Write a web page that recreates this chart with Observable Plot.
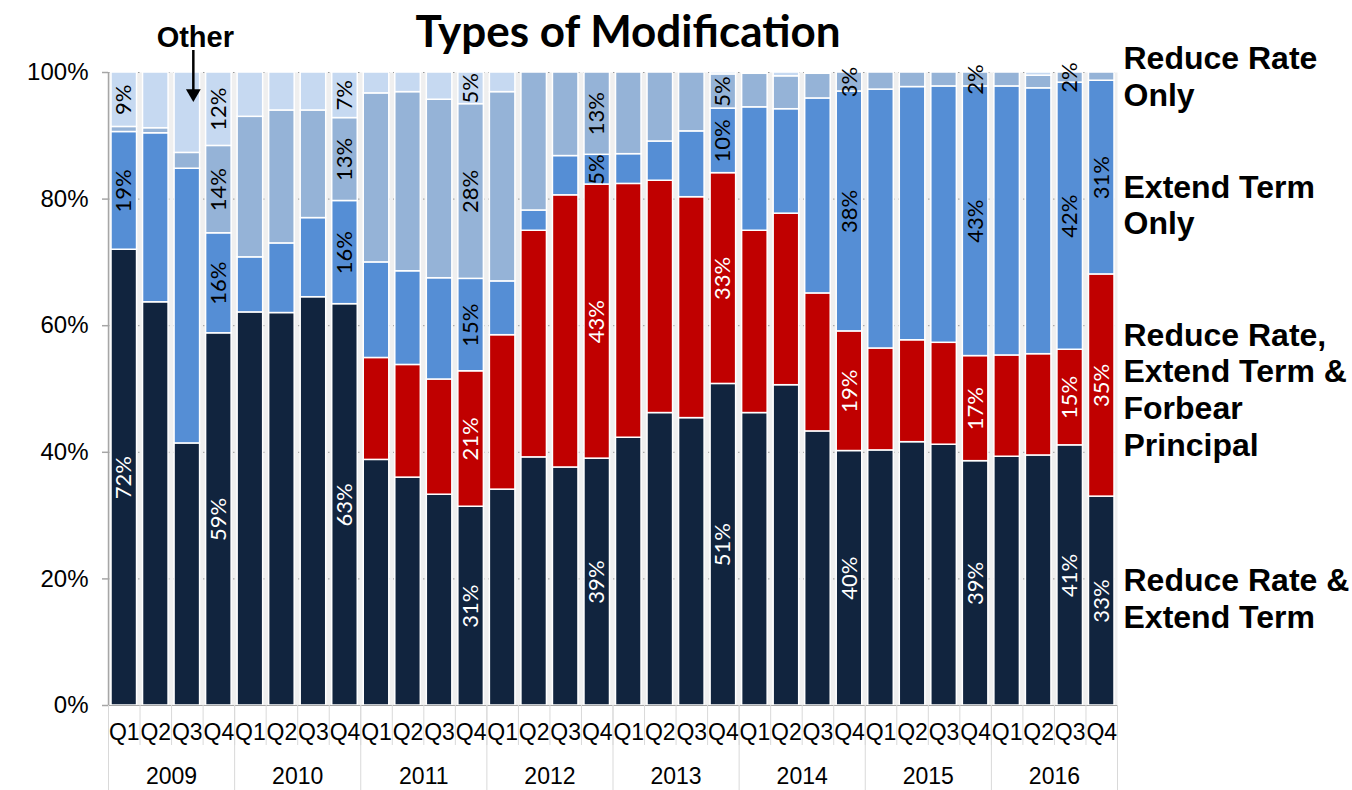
<!DOCTYPE html>
<html><head><meta charset="utf-8">
<script src="https://cdn.jsdelivr.net/npm/d3@7"></script>
<script src="https://cdn.jsdelivr.net/npm/@observablehq/plot@0.6"></script>
<style>body{margin:0;background:#fff}</style>
</head><body><div id="chart"></div>
<script>
// ---------- data ----------
const years = ["2009","2010","2011","2012","2013","2014","2015","2016"];
const quarters = ["Q1","Q2","Q3","Q4"];
const seriesNames = ["Reduce Rate & Extend Term","Reduce Rate, Extend Term & Forbear Principal","Extend Term Only","Reduce Rate Only","Other"];
const reduceRateExtendTerm = [72.0,63.7,41.4,58.8, 62.1,62.0,64.5,63.4, 38.8,36.0,33.3,31.4, 34.1,39.2,37.6,39.0, 42.3,46.2,45.4,50.8, 46.2,50.6,43.3,40.2, 40.3,41.6,41.2,38.6, 39.3,39.5,41.1,33.0];
const reduceRateExtendTermForbear = [0,0,0,0, 0,0,0,0, 16.1,17.8,18.2,21.4, 24.4,35.8,43.0,43.3, 40.1,36.7,34.9,33.3, 28.8,27.1,21.8,18.9, 16.1,16.1,16.1,16.6, 16.0,16.0,15.1,35.1];
const extendTermOnly = [18.6,26.7,43.4,15.8, 8.7,11.0,12.5,16.3, 15.1,14.8,16.0,14.6, 8.5,3.2,6.2,4.7, 4.7,6.2,10.4,10.2, 19.5,16.5,30.8,37.9, 40.9,40.0,40.5,42.6, 42.5,42.0,42.2,30.6];
const reduceRateOnly = [0.8,0.8,2.5,13.8, 22.2,21.0,17.0,13.1, 26.7,28.3,28.2,27.6, 29.9,21.8,13.2,13.0, 12.9,10.9,9.3,5.4, 5.3,5.2,3.9,3.0, 2.7,2.3,2.2,2.2, 2.2,2.0,1.6,1.3];
const other = [8.6,8.8,12.7,11.6, 7.0,6.0,6.0,7.2, 3.3,3.1,4.3,5.0, 3.1,0,0,0, 0,0,0,0.3, 0.2,0.6,0.2,0, 0,0,0,0, 0,0.5,0,0];
const labeledPeriods = ["2009 Q1","2009 Q4","2010 Q4","2011 Q4","2012 Q4","2013 Q4","2014 Q4","2015 Q4","2016 Q3","2016 Q4"];
const yTicks = [0,20,40,60,80,100];
const legendText = ["Reduce Rate &\nExtend Term","Reduce Rate,\nExtend Term &\nForbear\nPrincipal","Extend Term\nOnly","Reduce Rate\nOnly"];
const legendAt = [17.0, 50.0, 79.2, 99.5];
const title = "Types of Modification";
const otherNote = {period: "2009 Q3", text: "Other"};

// ---------- derived table ----------
const colors = ["#11243e","#c00000","#558ed5","#95b3d7","#c6d9f1"];
const seriesValues = [reduceRateExtendTerm, reduceRateExtendTermForbear, extendTermOnly, reduceRateOnly, other];
const periods = years.flatMap(y => quarters.map(q => `${y} ${q}`));
const rows = [];
periods.forEach((p, i) => {
  let acc = 0;
  seriesValues.forEach((vals, s) => {
    const v = vals[i];
    if (v > 0) rows.push({period: p, series: seriesNames[s], sIndex: s, value: v, y1: acc, y2: acc + v, mid: acc + v / 2});
    acc += v;
  });
});
const labelRows = rows.filter(r => labeledPeriods.includes(r.period) && r.value >= 1.5)
  .map(r => ({...r, label: Math.round(r.value) + "%"}));
const legendRows = legendText.map((t, i) => ({text: t, y: legendAt[i]}));

// ---------- layout ----------
const W = 1352, H = 790, mL = 108, mR = 235, mT = 72, mB = 85;
const frameH = H - mT - mB;
const step = (W - mL - mR) / periods.length;
const axisGray = "#a6a6a6", sepGray = "#d9d9d9";

const chart = Plot.plot({
  width: W, height: H,
  marginLeft: mL, marginRight: mR, marginTop: mT, marginBottom: mB,
  style: {fontFamily: "'Liberation Sans', Arial, sans-serif", background: "white", color: "black"},
  x: {type: "band", domain: periods, padding: 0, round: false, axis: null},
  y: {domain: [0, 100], axis: null},
  color: {domain: seriesNames, range: colors},
  marks: [
    Plot.frame({fill: "#efefef", stroke: null}),
    Plot.gridY(yTicks, {stroke: "#9a9a9a", strokeOpacity: 1, strokeDasharray: "1.5,3.5"}),
    Plot.barY(rows, {x: "period", y1: "y1", y2: "y2", fill: "series", stroke: "white", strokeWidth: 1.5, insetLeft: 3, insetRight: 3}),
    Plot.text(labelRows, {filter: r => r.sIndex < 2, x: "period", y: "mid", text: "label", rotate: -90, fill: "white", fontSize: 22, fontFamily: "Lato, 'Open Sans', sans-serif"}),
    Plot.text(labelRows, {filter: r => r.sIndex >= 2, x: "period", y: "mid", text: "label", rotate: -90, fill: "black", fontSize: 22, fontFamily: "Lato, 'Open Sans', sans-serif"}),
    // axes
    Plot.ruleX([periods[0]], {dx: -step / 2, stroke: axisGray, strokeWidth: 1.5}),
    Plot.ruleY([0], {stroke: axisGray}),
    Plot.axisY(yTicks, {tickFormat: d => d + "%", tickSize: 6, tickPadding: 14, fontSize: 24, stroke: axisGray, fill: "black", strokeWidth: 1.5}),
    // x separators
    Plot.ruleX(periods, {dx: -step / 2, stroke: sepGray, insetTop: frameH, insetBottom: -40}),
    Plot.ruleX(years.map(y => `${y} Q1`), {dx: -step / 2, stroke: sepGray, insetTop: frameH, insetBottom: -85}),
    Plot.ruleX([periods[periods.length - 1]], {dx: step / 2, stroke: sepGray, insetTop: frameH, insetBottom: -85}),
    Plot.text(periods, {x: d => d, text: d => d.split(" ")[1], frameAnchor: "bottom", lineAnchor: "top", dy: 18, fontSize: 23}),
    Plot.text(years, {x: y => `${y} Q2`, text: d => d, dx: step / 2, frameAnchor: "bottom", lineAnchor: "middle", dy: 71, fontSize: 23}),
    // series labels on the right
    Plot.text(legendRows, {y: "y", text: "text", frameAnchor: "right", dx: 6, textAnchor: "start", lineAnchor: "middle", fontSize: 32, fontWeight: "bold", lineHeight: 1.15}),
    // "Other" note
    Plot.text([otherNote], {x: "period", text: "text", frameAnchor: "top", lineAnchor: "middle", dy: -35, dx: 8, fontSize: 29, fontWeight: "bold"}),
    Plot.ruleX([otherNote], {x: "period", dx: 6, stroke: "black", strokeWidth: 2.5, insetTop: -22, insetBottom: frameH - 18}),
    Plot.dot([otherNote], {x: "period", frameAnchor: "top", dx: 6, dy: 21, symbol: "triangle", rotate: 180, r: 5.5, fill: "black", stroke: null}),
    // title
    Plot.text([title], {frameAnchor: "top", text: d => d, lineAnchor: "bottom", dy: -26, dx: 15, fontSize: 44, fontWeight: "bold", fontFamily: "Lato, sans-serif"})
  ]
});
document.getElementById("chart").appendChild(chart);
</script>
</body></html>
